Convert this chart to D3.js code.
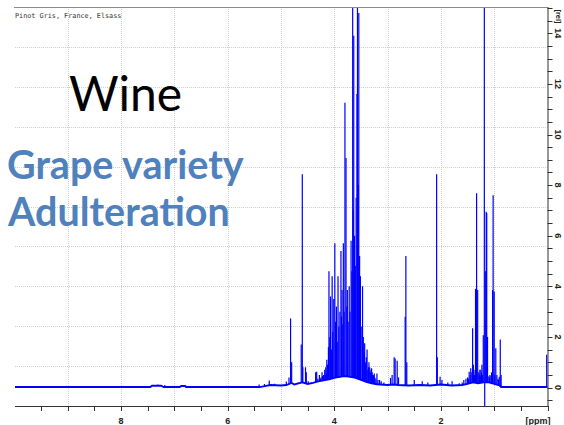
<!DOCTYPE html>
<html>
<head>
<meta charset="utf-8">
<script src="https://cdn.jsdelivr.net/npm/d3@7/dist/d3.min.js"></script>
<style>
  html, body { margin: 0; padding: 0; background: #fff; }
  svg { display: block; }
</style>
</head>
<body>
<svg id="chart" width="564" height="425"></svg>
<script>
// 1H NMR spectrum of a Pinot Gris wine (chemical shift in ppm, relative intensity)

// Baseline profile: chemical shift (ppm) and intensity
const baselinePpm = [10, 7.45, 7.42, 7.25, 7.2, 6.9, 6.87, 6.8, 6.78, 5.4, 5.3, 5.2, 5.0, 4.9, 4.8, 4.75, 4.6, 4.5, 4.4, 4.3, 4.2, 4.1, 4.0, 3.9, 3.8, 3.7, 3.6, 3.5, 3.4, 3.3, 3.2, 3.0, 2.9, 2.8, 2.6, 2.4, 2.2, 2.0, 1.8, 1.6, 1.5, 1.4, 1.3, 1.2, 1.1, 1.0, 0.9, 0.87, 0.03, 0];
const baselineVal = [0.02, 0.02, 0.07, 0.07, 0.02, 0.02, 0.06, 0.06, 0.02, 0.02, 0.06, 0.1, 0.08, 0.1, 0.18, 0.12, 0.2, 0.14, 0.18, 0.24, 0.28, 0.32, 0.38, 0.42, 0.45, 0.42, 0.38, 0.3, 0.22, 0.16, 0.13, 0.1, 0.12, 0.1, 0.08, 0.1, 0.08, 0.12, 0.08, 0.1, 0.14, 0.2, 0.17, 0.2, 0.2, 0.14, 0.08, 0.02, 0.02, 0.02];

// Resonance lines: position (ppm) and peak intensity
const peakPpm = [
  7.31, 7.18, 6.87, 5.41, 5.31, 5.22, 5.12, 4.90, 4.85, 4.82, 4.80, 4.68, 4.62, 4.60, 4.59, 4.54, 4.525, 4.49, 4.43, 4.35, 4.33, 4.31,
  4.28, 4.26, 4.25, 4.23, 4.22, 4.20, 4.18, 4.17, 4.16, 4.15, 4.14, 4.12,
  4.13, 4.11, 4.10, 4.085, 4.07, 4.055, 4.04, 4.03, 4.01, 3.99, 3.975, 3.96, 3.945, 3.93, 3.915, 3.895, 3.875, 3.865, 3.855, 3.84, 3.83, 3.815,
  3.80, 3.78, 3.765, 3.755, 3.74, 3.72, 3.705, 3.685, 3.67, 3.655, 3.645, 3.635, 3.62, 3.605, 3.59, 3.575, 3.565, 3.55, 3.54, 3.525, 3.51, 3.495,
  3.47, 3.455, 3.44, 3.43, 3.42, 3.41, 3.40, 3.385, 3.37, 3.36, 3.35, 3.335, 3.32, 3.31, 3.30, 3.29, 3.28, 3.27, 3.26, 3.25, 3.24, 3.22, 3.20, 3.18, 3.15, 3.12, 3.07,
  2.945, 2.915, 2.877, 2.858, 2.82, 2.795, 2.67, 2.657, 2.64, 2.50, 2.35, 2.245, 2.08, 2.067, 2.015, 1.98, 1.87, 1.79, 1.656, 1.60, 1.57, 1.53,
  1.50, 1.48, 1.47, 1.45, 1.44, 1.42, 1.405, 1.39, 1.38, 1.37, 1.35, 1.33, 1.31, 1.29, 1.28, 1.27, 1.26, 1.25, 1.24, 1.23, 1.22, 1.205, 1.185, 1.178,
  1.16, 1.15, 1.14, 1.125, 1.10, 1.09, 1.08, 1.06, 1.05, 1.03, 1.02, 1.00, 0.99, 0.97, 0.95, 0.93, 0.92,
  0.905, 0.886, 0.87, 0.015
];
const peakHeight = [
  0.12, 0.1, 0.1, 0.12, 0.14, 0.28, 0.15, 0.24, 0.4, 2.73, 1.0, 0.2, 1.7, 8.43, 0.8, 0.8, 0.6, 0.25, 0.2, 0.6, 0.62, 0.35,
  0.5, 0.35, 0.4, 0.6, 0.45, 0.5, 0.7, 0.5, 0.8, 0.55, 1.1, 0.9,
  0.9, 1.6, 4.6, 2.0, 3.6, 1.5, 4.4, 2.2, 3.5, 5.7, 2.6, 3.2, 1.8, 4.4, 2.4, 3.0, 5.4, 2.8, 3.85, 2.5, 5.7, 3.0,
  11.26, 9.07, 3.2, 3.85, 2.6, 4.0, 3.0, 5.8, 4.6, 20, 7.0, 13.9, 6.0, 4.8, 7.5, 11.6, 20, 8.0, 14.8, 5.2, 4.4, 2.4,
  4.0, 2.0, 1.4, 1.75, 0.9, 1.0, 1.2, 1.5, 0.7, 0.8, 1.0, 0.8, 0.6, 0.7, 0.76, 0.6, 0.5, 0.45, 0.5, 0.55, 0.4, 0.35, 0.55, 0.3, 0.3, 0.25, 0.2,
  0.38, 0.5, 1.2, 1.15, 1.06, 0.4, 2.8, 5.2, 1.0, 0.3, 0.25, 0.2, 8.43, 1.2, 0.43, 0.3, 0.2, 0.25, 0.17, 0.2, 0.3, 0.35,
  0.4, 0.35, 0.62, 0.5, 0.76, 0.6, 2.34, 0.9, 0.7, 0.5, 3.9, 7.68, 3.85, 0.6, 0.5, 0.7, 0.45, 0.7, 0.6, 0.9, 0.5, 2.07, 30, -3,
  4.6, 6.95, 6.9, 2.0, 0.45, 0.4, 0.5, 0.45, 0.6, 3.85, 7.6, 3.8, 0.5, 1.55, 0.5, 0.35, 0.3,
  0.43, 1.9, 0.5, 1.3
];

// Axis tick values
const xTickLabels = [8, 6, 4, 2];
const yTickLabels = [0, 2, 4, 6, 8, 10, 12, 14];

const svg = d3.select("#chart");
const W = 564, H = 425;
const plot = { left: 15, right: 547.5, top: 7, bottom: 406 };

const x = d3.scaleLinear().domain([9.99, 0]).range([plot.left, plot.right]);
const y = d3.scaleLinear().domain([-0.73, 15.04]).range([plot.bottom, plot.top]);
const base = d3.scaleLinear().domain(baselinePpm).range(baselineVal).clamp(true);

svg.append("rect").attr("width", W).attr("height", H).attr("fill", "#fff");

// Grid: one vertical line per ppm, ten horizontal divisions
const grid = svg.append("g")
  .attr("stroke", "#cfcfcf").attr("stroke-width", 1).attr("stroke-dasharray", "1,1");
grid.selectAll("line.v").data(d3.range(1, 10)).join("line")
  .attr("class", "v")
  .attr("x1", d => Math.round(x(d)) + 0.5).attr("x2", d => Math.round(x(d)) + 0.5)
  .attr("y1", plot.top).attr("y2", plot.bottom);
grid.selectAll("line.h").data(d3.range(1, 10)).join("line")
  .attr("class", "h")
  .attr("x1", plot.left).attr("x2", plot.right)
  .attr("y1", d => Math.round(plot.top + d * (plot.bottom - plot.top) / 10) + 0.5)
  .attr("y2", d => Math.round(plot.top + d * (plot.bottom - plot.top) / 10) + 0.5);

// Titles
svg.append("text").attr("x", 15).attr("y", 17.5)
  .attr("font-family", "DejaVu Sans Mono").attr("font-size", 6.8).attr("fill", "#333")
  .text("Pinot Gris, France, Elsass");
svg.append("text").attr("x", 69).attr("y", 111)
  .attr("font-family", "Lato").attr("font-size", 48).attr("fill", "#000")
  .text("Wine");
svg.append("text").attr("x", 7).attr("y", 179)
  .attr("font-family", "Lato").attr("font-weight", "bold").attr("font-size", 39.5).attr("fill", "#4f81bd")
  .text("Grape variety");
svg.append("text").attr("x", 8).attr("y", 226)
  .attr("font-family", "Lato").attr("font-weight", "bold").attr("font-size", 39.5).attr("fill", "#4f81bd")
  .text("Adulteration");

// Spectrum
svg.append("defs").append("clipPath").attr("id", "plotclip")
  .append("rect").attr("x", plot.left).attr("y", plot.top)
  .attr("width", plot.right - plot.left + 1).attr("height", plot.bottom - plot.top);

const spec = svg.append("g").attr("clip-path", "url(#plotclip)");
const baseline = baselinePpm.map((p, i) => [p, baselineVal[i]]);
spec.append("path")
  .attr("d", d3.line().x(d => x(d[0])).y(d => y(d[1]))(baseline))
  .attr("fill", "none").attr("stroke", "#0000ff").attr("stroke-width", 1.8);

const peaks = peakPpm.map((p, i) => ({ ppm: p, h: peakHeight[i] }));
spec.selectAll("line.peak").data(peaks).join("line")
  .attr("class", "peak")
  .attr("x1", d => x(d.ppm)).attr("x2", d => x(d.ppm))
  .attr("y1", d => y(base(d.ppm))).attr("y2", d => y(d.h))
  .attr("stroke", "#0000ff").attr("stroke-width", 1.2);

// Frame
svg.append("line").attr("x1", plot.left - 1).attr("x2", plot.right)
  .attr("y1", plot.top + 0.5).attr("y2", plot.top + 0.5)
  .attr("stroke", "#8a8a8a").attr("stroke-width", 1);

const labelFont = { family: "Liberation Sans", size: 9, weight: "bold", fill: "#222" };

// Bottom axis (ppm)
const xAxis = svg.append("g").attr("stroke", "#333").attr("stroke-width", 1);
xAxis.append("line").attr("x1", plot.left).attr("x2", plot.right + 0.5)
  .attr("y1", plot.bottom + 0.5).attr("y2", plot.bottom + 0.5);
xAxis.selectAll("line.t").data(d3.range(0, 20).map(i => i * 0.5)).join("line")
  .attr("class", "t")
  .attr("x1", d => Math.round(x(d)) + 0.5).attr("x2", d => Math.round(x(d)) + 0.5)
  .attr("y1", plot.bottom).attr("y2", plot.bottom + 5);
svg.selectAll("text.xl").data(xTickLabels).join("text")
  .attr("class", "xl")
  .attr("x", d => x(d)).attr("y", 424)
  .attr("text-anchor", "middle")
  .attr("font-family", labelFont.family).attr("font-weight", labelFont.weight)
  .attr("font-size", labelFont.size).attr("fill", labelFont.fill)
  .text(d => d);
svg.append("text").attr("x", 538).attr("y", 424).attr("text-anchor", "middle")
  .attr("font-family", labelFont.family).attr("font-weight", labelFont.weight)
  .attr("font-size", labelFont.size).attr("fill", labelFont.fill)
  .text("[ppm]");

// Right axis (relative intensity)
const yAxis = svg.append("g").attr("stroke", "#333").attr("stroke-width", 1);
yAxis.append("line").attr("x1", plot.right + 0.5).attr("x2", plot.right + 0.5)
  .attr("y1", plot.top).attr("y2", plot.bottom + 1);
yAxis.selectAll("line.t").data(d3.range(-1, 31).map(i => i * 0.5)).join("line")
  .attr("class", "t")
  .attr("x1", plot.right).attr("x2", plot.right + 5)
  .attr("y1", d => Math.round(y(d)) + 0.5).attr("y2", d => Math.round(y(d)) + 0.5);
svg.selectAll("text.yl").data(yTickLabels).join("text")
  .attr("class", "yl")
  .attr("transform", d => `translate(558.5,${y(d)}) rotate(90)`)
  .attr("text-anchor", "middle").attr("dy", "0.35em")
  .attr("font-family", labelFont.family).attr("font-weight", labelFont.weight)
  .attr("font-size", labelFont.size).attr("fill", labelFont.fill)
  .text(d => d);
svg.append("text").attr("transform", "translate(558.5,16.5) rotate(90)")
  .attr("text-anchor", "middle").attr("dy", "0.35em")
  .attr("font-family", labelFont.family).attr("font-weight", labelFont.weight)
  .attr("font-size", 7.5).attr("fill", labelFont.fill)
  .text("[rel]");
</script>
</body>
</html>
